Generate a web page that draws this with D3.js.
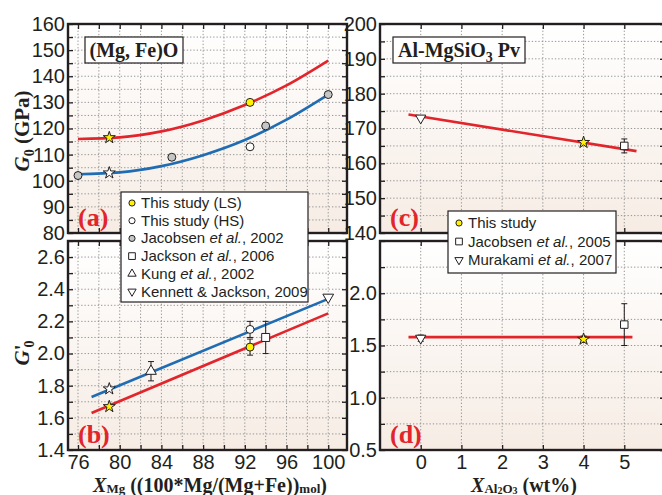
<!DOCTYPE html>
<html>
<head>
<meta charset="utf-8">
<script src="https://cdn.jsdelivr.net/npm/d3@7"></script>
<style>
body { margin: 0; background: #fff; }
svg { display: block; }
</style>
</head>
<body>
<div id="chart"></div>
<script>
// ---- values ----
// (Mg,Fe)O : G0 (GPa) against XMg
var mgCurveX = [76, 80, 84, 88, 92, 96, 100];
var mgLsCurveG = [116, 116.6, 118.9, 123.1, 129, 136.5, 146];
var mgHsCurveG = [102.5, 103.2, 105.6, 109.8, 115.6, 123.4, 133];
var lsG = [[92.5, 130]];
var hsG = [[92.5, 113]];
var jacobsen02G = [[76, 102], [85, 109], [94, 121], [100, 133]];
var starLsG = [[79, 116.5]];
var starHsG = [[79, 103]];

// (Mg,Fe)O : G'0 against XMg  [x, value, error]
var mgLineX = [77.3, 100];
var mgLsLineGp = [1.63, 2.25];
var mgHsLineGp = [1.73, 2.34];
var lsGp = [[92.5, 2.04, 0.05]];
var hsGp = [[92.5, 2.15, 0.05]];
var jackson06Gp = [[94, 2.1, 0.1]];
var kung02Gp = [[83, 1.89, 0.06]];
var kennett09Gp = [[100, 2.35, 0]];
var starLsGp = [[79, 1.67, 0]];
var starHsGp = [[79, 1.78, 0]];

// Al-MgSiO3 Pv : G0 and G'0 against Al2O3 wt%
var pvLineX = [-0.3, 5.3];
var pvLineG = [174, 163.5];
var pvStarG = [[4, 166, 0]];
var jacobsen05G = [[5, 165, 2]];
var murakami07G = [[0, 173, 0]];
var pvLineGpX = [-0.3, 5.2];
var pvLineGp = [1.58, 1.58];
var pvStarGp = [[4, 1.56, 0.03]];
var jacobsen05Gp = [[5, 1.7, 0.2]];
var murakami07Gp = [[0, 1.57, 0.03]];

// tick labels
var xMgTicks = [76, 80, 84, 88, 92, 96, 100];
var gTicks = [80, 90, 100, 110, 120, 130, 140, 150, 160];
var gpTicks = [1.4, 1.6, 1.8, 2.0, 2.2, 2.4, 2.6];
var xAlTicks = [0, 1, 2, 3, 4, 5];
var pvGTicks = [140, 150, 160, 170, 180, 190, 200];
var pvGpTicks = [0.5, 1.0, 1.5, 2.0];

var legendMg = ["This study (LS)", "This study (HS)", "Jacobsen |et al.|, 2002",
    "Jackson |et al.|, 2006", "Kung |et al.|, 2002", "Kennett & Jackson, 2009"];
var legendPv = ["This study", "Jacobsen |et al.|, 2005", "Murakami |et al.|, 2007"];

var RED = "#e2242b", BLUE = "#1f6cb2", INK = "#231f20", YELLOW = "#fff200", GREY = "#c6c6c6";
var tickFont = "'Liberation Sans Narrow', 'Arial Narrow', 'Liberation Sans', sans-serif";
var serif = "'Liberation Serif', 'Times New Roman', serif";

var width = 662, height = 495;

var svg = d3.select("#chart").append("svg")
    .attr("width", width)
    .attr("height", height);

var grad = svg.append("defs").append("linearGradient")
    .attr("id", "bg").attr("x1", 0).attr("y1", 0).attr("x2", 0).attr("y2", 1);
grad.append("stop").attr("offset", "0%").attr("stop-color", "#ffffff");
grad.append("stop").attr("offset", "100%").attr("stop-color", "#f6ece4");

function makePanel(o) {
    var x = d3.scaleLinear().domain(o.xDomain).range([o.left, o.right]);
    var y = d3.scaleLinear().domain(o.yDomain).range([o.bottom, o.top]);
    var g = svg.append("g");

    g.append("rect")
        .attr("x", o.left).attr("y", o.top)
        .attr("width", o.right - o.left).attr("height", o.bottom - o.top)
        .attr("fill", "url(#bg)");

    // dotted grid
    g.append("g").selectAll("line").data(o.xGrid).join("line")
        .attr("x1", d => x(d)).attr("x2", d => x(d))
        .attr("y1", o.top).attr("y2", o.bottom);
    g.append("g").selectAll("line").data(o.yGrid).join("line")
        .attr("y1", d => y(d)).attr("y2", d => y(d))
        .attr("x1", o.left).attr("x2", o.right);
    g.selectAll("g line")
        .attr("stroke", "#8a8a8a")
        .attr("stroke-width", 0.9)
        .attr("stroke-dasharray", "1.3,2");

    // inward ticks on all four sides
    var sides = [
        [d3.axisLeft(y), o.left, 0, o.yGrid],
        [d3.axisRight(y), o.right, 0, o.yGrid],
        [d3.axisBottom(x), 0, o.bottom, o.xGrid],
        [d3.axisTop(x), 0, o.top, o.xGrid]
    ];
    sides.forEach(function(s) {
        var ax = g.append("g")
            .attr("transform", "translate(" + s[1] + "," + s[2] + ")")
            .call(s[0].tickValues(s[3]).tickSize(-5).tickFormat(""));
        ax.select(".domain").remove();
        ax.selectAll("line").attr("stroke", INK).attr("stroke-width", 1.3);
    });

    var yAx = g.append("g")
        .attr("transform", "translate(" + o.left + ",0)")
        .call(d3.axisLeft(y).tickValues(o.yTicks).tickSize(0).tickPadding(3)
            .tickFormat(o.yFormat));
    yAx.select(".domain").remove();
    yAx.selectAll("text")
        .attr("font-family", tickFont).attr("font-size", 20).attr("fill", INK);

    if (o.xTicks) {
        var xAx = g.append("g")
            .attr("transform", "translate(0," + o.bottom + ")")
            .call(d3.axisBottom(x).tickValues(o.xTicks).tickSize(0).tickPadding(5)
                .tickFormat(d3.format("d")));
        xAx.select(".domain").remove();
        xAx.selectAll("text")
            .attr("font-family", tickFont).attr("font-size", 20).attr("fill", INK);
    }

    g.append("rect")
        .attr("x", o.left).attr("y", o.top)
        .attr("width", o.right - o.left).attr("height", o.bottom - o.top)
        .attr("fill", "none")
        .attr("stroke", INK)
        .attr("stroke-width", 2.4);

    g.append("text")
        .attr("x", o.left + 10).attr("y", o.bottom - 7)
        .attr("font-family", serif).attr("font-weight", "bold")
        .attr("font-size", 26).attr("fill", RED)
        .text(o.tag);

    return {x: x, y: y, g: g};
}

function drawLine(p, xs, ys, color, curve) {
    var pts = xs.map(function(d, i) { return [d, ys[i]]; });
    p.g.append("path")
        .datum(pts)
        .attr("fill", "none")
        .attr("stroke", color)
        .attr("stroke-width", 2.6)
        .attr("d", d3.line().curve(curve || d3.curveLinear)
            .x(d => p.x(d[0])).y(d => p.y(d[1])));
}

function drawPoints(p, data, type, fill, size, flip) {
    var withErr = data.filter(d => d[2]);
    var eg = p.g.append("g").attr("stroke", INK).attr("stroke-width", 1);
    withErr.forEach(function(d) {
        var cx = p.x(d[0]), y1 = p.y(d[1] - d[2]), y2 = p.y(d[1] + d[2]);
        eg.append("line").attr("x1", cx).attr("x2", cx).attr("y1", y1).attr("y2", y2);
        eg.append("line").attr("x1", cx - 3).attr("x2", cx + 3).attr("y1", y1).attr("y2", y1);
        eg.append("line").attr("x1", cx - 3).attr("x2", cx + 3).attr("y1", y2).attr("y2", y2);
    });
    p.g.append("g").selectAll("path").data(data).join("path")
        .attr("transform", d => "translate(" + p.x(d[0]) + "," + p.y(d[1]) + ")" + (flip ? " rotate(180)" : ""))
        .attr("d", d3.symbol().type(type).size(size))
        .attr("fill", fill)
        .attr("stroke", INK)
        .attr("stroke-width", 1);
}

function boxTitle(x, y, w, h, parts) {
    svg.append("rect")
        .attr("x", x).attr("y", y).attr("width", w).attr("height", h)
        .attr("fill", "#fff").attr("stroke", INK).attr("stroke-width", 1.2);
    var t = svg.append("text")
        .attr("x", x + w / 2).attr("y", y + h - 6)
        .attr("text-anchor", "middle")
        .attr("font-family", serif).attr("font-weight", "bold")
        .attr("font-size", 20).attr("fill", INK);
    parts.forEach(function(s) {
        t.append("tspan").attr("font-size", s[1] || 20).attr("dy", s[2] || 0).text(s[0]);
    });
}

// ---- panels ----
var pa = makePanel({
    left: 68, right: 347, top: 24, bottom: 233,
    xDomain: [75.04, 101.8], yDomain: [80, 160],
    xGrid: d3.range(76, 101, 2), yGrid: d3.range(80, 161, 5),
    yTicks: gTicks, yFormat: d3.format("d"), tag: "(a)"
});
var pb = makePanel({
    left: 68, right: 347, top: 241, bottom: 450,
    xDomain: [75.04, 101.8], yDomain: [1.4, 2.7],
    xGrid: d3.range(76, 101, 2), yGrid: d3.range(1.4, 2.71, 0.1),
    yTicks: gpTicks, yFormat: d3.format(".1f"), xTicks: xMgTicks, tag: "(b)"
});
var pc = makePanel({
    left: 380, right: 665, top: 24, bottom: 233,
    xDomain: [-1, 6], yDomain: [140, 200],
    xGrid: d3.range(0, 6, 1), yGrid: d3.range(140, 201, 5),
    yTicks: pvGTicks, yFormat: d3.format("d"), tag: "(c)"
});
var pd = makePanel({
    left: 380, right: 665, top: 241, bottom: 450,
    xDomain: [-1, 6], yDomain: [0.5, 2.5],
    xGrid: d3.range(0, 6, 1), yGrid: d3.range(0.5, 2.51, 0.25),
    yTicks: pvGpTicks, yFormat: d3.format(".1f"), xTicks: xAlTicks, tag: "(d)"
});

// (a)
drawLine(pa, mgCurveX, mgLsCurveG, RED, d3.curveMonotoneX);
drawLine(pa, mgCurveX, mgHsCurveG, BLUE, d3.curveMonotoneX);
drawPoints(pa, jacobsen02G, d3.symbolCircle, GREY, 50);
drawPoints(pa, hsG, d3.symbolCircle, "#fff", 50);
drawPoints(pa, lsG, d3.symbolCircle, YELLOW, 50);
drawPoints(pa, starLsG, d3.symbolStar, YELLOW, 45);
drawPoints(pa, starHsG, d3.symbolStar, "#fff", 45);

// (b)
drawLine(pb, mgLineX, mgHsLineGp, BLUE);
drawLine(pb, mgLineX, mgLsLineGp, RED);
drawPoints(pb, kung02Gp, d3.symbolTriangle, "#fff", 50);
drawPoints(pb, jackson06Gp, d3.symbolSquare, "#fff", 64);
drawPoints(pb, hsGp, d3.symbolCircle, "#fff", 50);
drawPoints(pb, lsGp, d3.symbolCircle, YELLOW, 50);
drawPoints(pb, kennett09Gp, d3.symbolTriangle, "#fff", 50, true);
drawPoints(pb, starLsGp, d3.symbolStar, YELLOW, 45);
drawPoints(pb, starHsGp, d3.symbolStar, "#fff", 45);

// (c)
drawLine(pc, pvLineX, pvLineG, RED);
drawPoints(pc, murakami07G, d3.symbolTriangle, "#fff", 45, true);
drawPoints(pc, jacobsen05G, d3.symbolSquare, "#fff", 56);
drawPoints(pc, pvStarG, d3.symbolStar, YELLOW, 45);

// (d)
drawLine(pd, pvLineGpX, pvLineGp, RED);
drawPoints(pd, murakami07Gp, d3.symbolTriangle, "#fff", 45, true);
drawPoints(pd, jacobsen05Gp, d3.symbolSquare, "#fff", 56);
drawPoints(pd, pvStarGp, d3.symbolStar, YELLOW, 45);

// titles in boxes
boxTitle(85, 37, 98, 26, [["(Mg, Fe)O"]]);
boxTitle(393, 37, 132, 26, [["Al-MgSiO"], ["3", 14, 5], [" Pv", 20, -5]]);

// legends
function legend(x, y, w, h, labels, symbols, rowH, firstBase) {
    svg.append("rect")
        .attr("x", x).attr("y", y).attr("width", w).attr("height", h)
        .attr("fill", "#fff").attr("stroke", INK).attr("stroke-width", 1.2);
    labels.forEach(function(lab, i) {
        var by = firstBase + i * rowH;
        var s = symbols[i];
        svg.append("path")
            .attr("transform", "translate(" + (x + 11) + "," + (by - 5) + ")" + (s[2] ? " rotate(180)" : ""))
            .attr("d", d3.symbol().type(s[0]).size(s[3] || 30))
            .attr("fill", s[1]).attr("stroke", INK).attr("stroke-width", 1);
        var t = svg.append("text")
            .attr("x", x + 20).attr("y", by)
            .attr("font-family", "'Liberation Sans', Arial, sans-serif")
            .attr("font-size", 15).attr("fill", INK);
        lab.split("|").forEach(function(part, k) {
            t.append("tspan").attr("font-style", k % 2 ? "italic" : "normal").text(part);
        });
    });
}

legend(121, 192, 187, 110, legendMg, [
    [d3.symbolCircle, YELLOW], [d3.symbolCircle, "#fff"], [d3.symbolCircle, GREY],
    [d3.symbolSquare, "#fff", false, 45], [d3.symbolTriangle, "#fff"], [d3.symbolTriangle, "#fff", true]
], 17.7, 208);
legend(448, 211, 168, 62, legendPv, [
    [d3.symbolCircle, YELLOW], [d3.symbolSquare, "#fff", false, 45], [d3.symbolTriangle, "#fff", true]
], 18.5, 228);

// axis titles
var ty1 = svg.append("text")
    .attr("transform", "translate(29,131) rotate(-90)")
    .attr("text-anchor", "middle")
    .attr("font-family", serif).attr("font-weight", "bold")
    .attr("font-size", 21).attr("fill", INK);
ty1.append("tspan").attr("font-style", "italic").text("G");
ty1.append("tspan").attr("font-size", 14).attr("dy", 5).text("0");
ty1.append("tspan").attr("dy", -5).text(" (GPa)");

var ty2 = svg.append("text")
    .attr("transform", "translate(29,353) rotate(-90)")
    .attr("text-anchor", "middle")
    .attr("font-family", serif).attr("font-weight", "bold")
    .attr("font-size", 21).attr("fill", INK);
ty2.append("tspan").attr("font-style", "italic").text("G");
ty2.append("tspan").text("'");
ty2.append("tspan").attr("font-size", 14).attr("dx", -3).attr("dy", 5).text("0");

var tx1 = svg.append("text")
    .attr("x", 210).attr("y", 492)
    .attr("text-anchor", "middle")
    .attr("font-family", serif).attr("font-weight", "bold")
    .attr("font-size", 20).attr("fill", INK);
tx1.append("tspan").attr("font-style", "italic").text("X");
tx1.append("tspan").attr("font-size", 13).attr("dy", 1).text("Mg");
tx1.append("tspan").attr("dy", -1).text(" ((100*Mg/(Mg+Fe))");
tx1.append("tspan").attr("font-size", 13).attr("dy", 1).text("mol");
tx1.append("tspan").attr("dy", -1).text(")");

var tx2 = svg.append("text")
    .attr("x", 524).attr("y", 492)
    .attr("text-anchor", "middle")
    .attr("font-family", serif).attr("font-weight", "bold")
    .attr("font-size", 20).attr("fill", INK);
tx2.append("tspan").attr("font-style", "italic").text("X");
tx2.append("tspan").attr("font-size", 13).attr("dy", 1).text("Al");
tx2.append("tspan").attr("font-size", 10).attr("dy", 1).text("2");
tx2.append("tspan").attr("font-size", 13).attr("dy", -1).text("O");
tx2.append("tspan").attr("font-size", 10).attr("dy", 1).text("3");
tx2.append("tspan").attr("dy", -2).text(" (wt%)");
</script>
</body>
</html>
